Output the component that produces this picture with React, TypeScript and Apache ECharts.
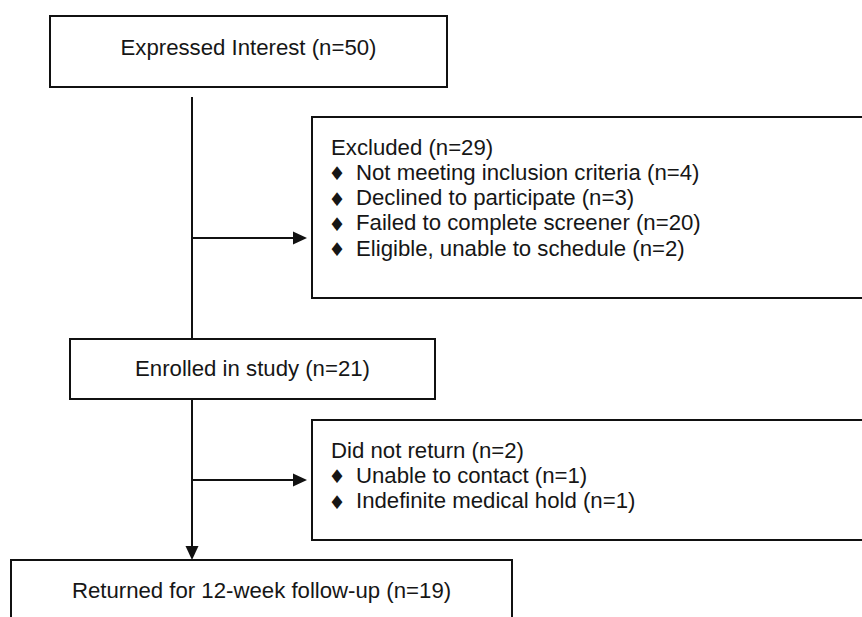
import React, { useEffect, useRef } from "react";
import * as echarts from "echarts";

// ---- data ----
const stageLabels = ["Expressed Interest", "Enrolled in study", "Returned for 12-week follow-up"];
const stageCounts = [50, 21, 19];
const excludedHeader = "Excluded";
const excludedTotal = 29;
const excludedReasons = [
  "Not meeting inclusion criteria",
  "Declined to participate",
  "Failed to complete screener",
  "Eligible, unable to schedule",
];
const excludedCounts = [4, 3, 20, 2];
const dropoutHeader = "Did not return";
const dropoutTotal = 2;
const dropoutReasons = ["Unable to contact", "Indefinite medical hold"];
const dropoutCounts = [1, 1];

// ---- layout ----
const W = 862;
const H = 617;
const FONT = "'Liberation Sans', Arial, Helvetica, sans-serif";
const FS = 22.2;
const LH = 25.3;
const INK = "#161616";
const LINE = "#111111";
const LW = 2;
const trunkX = 192;

const stageBoxes = [
  { x: 50, y: 16, w: 397, h: 71, ty: 47 },
  { x: 70, y: 339, w: 365, h: 60, ty: 368 },
  { x: 11, y: 560, w: 501, h: 90, ty: 590 },
];
const sideBoxes = [
  { x: 312, y: 117, w: 600, h: 181, ty: 147, arrowY: 238 },
  { x: 312, y: 420, w: 600, h: 120, ty: 450, arrowY: 480 },
];

function rect(b: { x: number; y: number; w: number; h: number }) {
  return {
    type: "rect",
    silent: true,
    shape: { x: b.x, y: b.y, width: b.w, height: b.h },
    style: { fill: "#ffffff", stroke: LINE, lineWidth: LW },
  };
}
function line(x1: number, y1: number, x2: number, y2: number) {
  return {
    type: "line",
    silent: true,
    shape: { x1, y1, x2, y2 },
    style: { stroke: LINE, lineWidth: LW },
  };
}
function text(s: string, x: number, y: number, align: string, size = FS, family = FONT) {
  return {
    type: "text",
    silent: true,
    x,
    y,
    style: {
      text: s,
      fill: INK,
      font: `${size}px ${family}`,
      align,
      verticalAlign: "middle",
    },
  };
}
function arrowRight(tipX: number, y: number) {
  return {
    type: "polygon",
    silent: true,
    shape: { points: [[tipX, y], [tipX - 14, y - 6.5], [tipX - 14, y + 6.5]] },
    style: { fill: LINE },
  };
}
function arrowDown(x: number, tipY: number) {
  return {
    type: "polygon",
    silent: true,
    shape: { points: [[x, tipY], [x - 6.5, tipY - 14], [x + 6.5, tipY - 14]] },
    style: { fill: LINE },
  };
}

function buildGraphic() {
  const els: any[] = [];
  els.push({
    type: "rect",
    silent: true,
    shape: { x: 0, y: 0, width: W, height: H },
    style: { fill: "#ffffff" },
  });
  // connectors
  els.push(line(trunkX, 97, trunkX, stageBoxes[1].y));
  els.push(line(trunkX, stageBoxes[1].y + stageBoxes[1].h, trunkX, stageBoxes[2].y - 6));
  els.push(arrowDown(trunkX, stageBoxes[2].y));
  sideBoxes.forEach((b) => {
    els.push(line(trunkX, b.arrowY, b.x - 10, b.arrowY));
    els.push(arrowRight(b.x - 5, b.arrowY));
  });
  // stage boxes
  stageBoxes.forEach((b, i) => {
    els.push(rect(b));
    els.push(text(`${stageLabels[i]} (n=${stageCounts[i]})`, b.x + b.w / 2, b.ty, "center"));
  });
  // side boxes
  const groups = [
    { header: excludedHeader, total: excludedTotal, reasons: excludedReasons, counts: excludedCounts },
    { header: dropoutHeader, total: dropoutTotal, reasons: dropoutReasons, counts: dropoutCounts },
  ];
  sideBoxes.forEach((b, gi) => {
    const g = groups[gi];
    els.push(rect(b));
    els.push(text(`${g.header} (n=${g.total})`, b.x + 19, b.ty, "left"));
    g.reasons.forEach((r, k) => {
      const y = b.ty + LH * (k + 1);
      els.push(text("\u2666", b.x + 25, y + 1, "center", 19, "'DejaVu Sans', sans-serif"));
      els.push(text(`${r} (n=${g.counts[k]})`, b.x + 44, y, "left"));
    });
  });
  return els;
}

export default function App() {
  const ref = useRef<HTMLDivElement>(null);
  useEffect(() => {
    if (!ref.current) return;
    const chart = echarts.init(ref.current, undefined, { renderer: "svg", width: W, height: H });
    chart.setOption({
      animation: false,
      backgroundColor: "#ffffff",
      graphic: { elements: buildGraphic() },
    });
    return () => chart.dispose();
  }, []);
  return (
    <div
      ref={ref}
      style={{ position: "fixed", left: 0, top: 0, width: W, height: H, overflow: "hidden" }}
    />
  );
}
